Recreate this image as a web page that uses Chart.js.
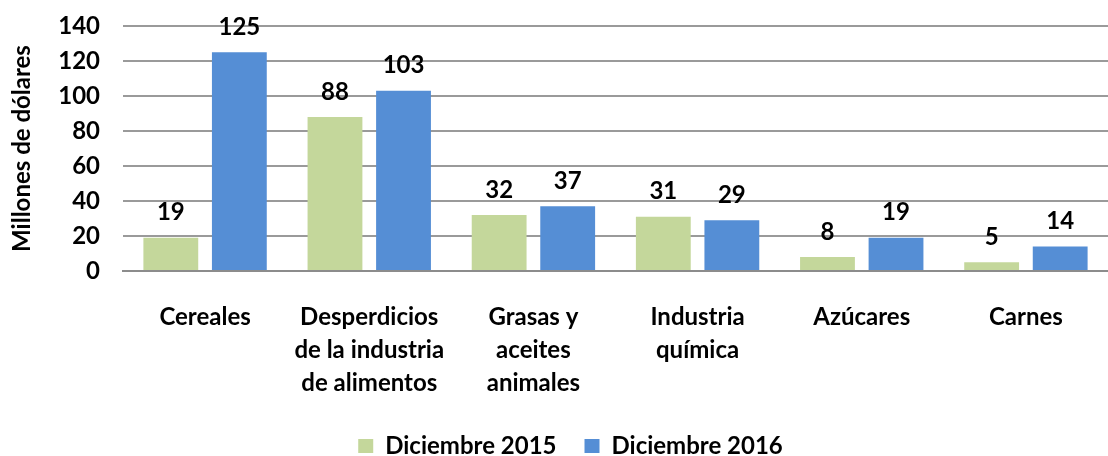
<!DOCTYPE html>
<html>
<head>
<meta charset="utf-8">
<script src="https://cdn.jsdelivr.net/npm/chart.js@4/dist/chart.umd.min.js"></script>
<style>
html,body{margin:0;padding:0;background:#fff;}
#wrap{width:1108px;height:456px;position:relative;}
</style>
</head>
<body>
<div id="wrap"><canvas id="c"></canvas></div>
<script>
const categories = [["Cereales"], ["Desperdicios", "de la industria", "de alimentos"], ["Grasas y", "aceites", "animales"], ["Industria", "química"], ["Azúcares"], ["Carnes"]];
const seriesNames = ["Diciembre 2015", "Diciembre 2016"];
const dic2015 = [19, 88, 32, 31, 8, 5];
const dic2016 = [125, 103, 37, 29, 19, 14];
const yTicks = [0, 20, 40, 60, 80, 100, 120, 140];

const FONT = "Lato, 'Open Sans', sans-serif";

const labelPlugin = {
  id: 'barLabels',
  afterDatasetsDraw(chart) {
    const ctx = chart.ctx;
    ctx.save();
    ctx.font = "bold 24px " + FONT;
    ctx.fillStyle = "#000";
    ctx.textAlign = "center";
    ctx.textBaseline = "bottom";
    chart.data.datasets.forEach((ds, i) => {
      const meta = chart.getDatasetMeta(i);
      meta.data.forEach((bar, j) => {
        ctx.fillText(String(ds.data[j]), bar.x, bar.y - 13);
      });
    });
    ctx.restore();
  }
};

// keep the legend compact vertically while keeping wide horizontal spacing
const legendHeightPlugin = {
  id: 'legendHeight',
  beforeUpdate(chart) {
    const lg = chart.legend;
    if (lg && !lg._patched) {
      const orig = lg.fit.bind(lg);
      lg.fit = function () { orig(); this.height = 50; };
      lg._patched = true;
    }
  }
};

new Chart(document.getElementById('c'), {
  type: 'bar',
  data: {
    labels: categories,
    datasets: [
      { label: seriesNames[0], data: dic2015, backgroundColor: '#C4D79B', categoryPercentage: 0.835, barPercentage: 0.80 },
      { label: seriesNames[1], data: dic2016, backgroundColor: '#558ED5', categoryPercentage: 0.835, barPercentage: 0.80 }
    ]
  },
  options: {
    responsive: true,
    maintainAspectRatio: false,
    animation: false,
    layout: { padding: { left: 8, right: -25, top: 26, bottom: 0 } },
    plugins: {
      legend: {
        position: 'bottom',
        labels: {
          font: { family: FONT, size: 24, weight: 'bold' },
          color: '#000',
          boxWidth: 15,
          boxHeight: 14,
          padding: 28
        }
      },
      tooltip: { enabled: false }
    },
    scales: {
      x: {
        grid: { display: false },
        border: { display: true, color: '#8C8C8C', width: 2 },
        afterFit(scale) { scale.height = 135; },
        ticks: {
          color: '#000',
          font: { family: FONT, size: 24, weight: 'bold', lineHeight: 1.375 },
          maxRotation: 0,
          autoSkip: false,
          padding: 22
        }
      },
      y: {
        min: 0,
        max: 140,
        afterBuildTicks(scale) { scale.ticks = yTicks.map(v => ({ value: v })); },
        afterFit(scale) { scale.width = 115; },
        grid: { color: '#9A9A9A', lineWidth: 2, drawTicks: true, tickLength: 23, tickColor: 'rgba(0,0,0,0)' },
        border: { display: false },
        ticks: {
          color: '#000',
          font: { family: FONT, size: 24, weight: 'bold' },
          padding: 0,
          autoSkip: false
        },
        title: {
          display: true,
          text: 'Millones de dólares',
          color: '#000',
          font: { family: FONT, size: 24, weight: 'bold' },
          padding: { top: 0, bottom: 2 }
        }
      }
    }
  },
  plugins: [labelPlugin, legendHeightPlugin]
});
</script>
</body>
</html>
